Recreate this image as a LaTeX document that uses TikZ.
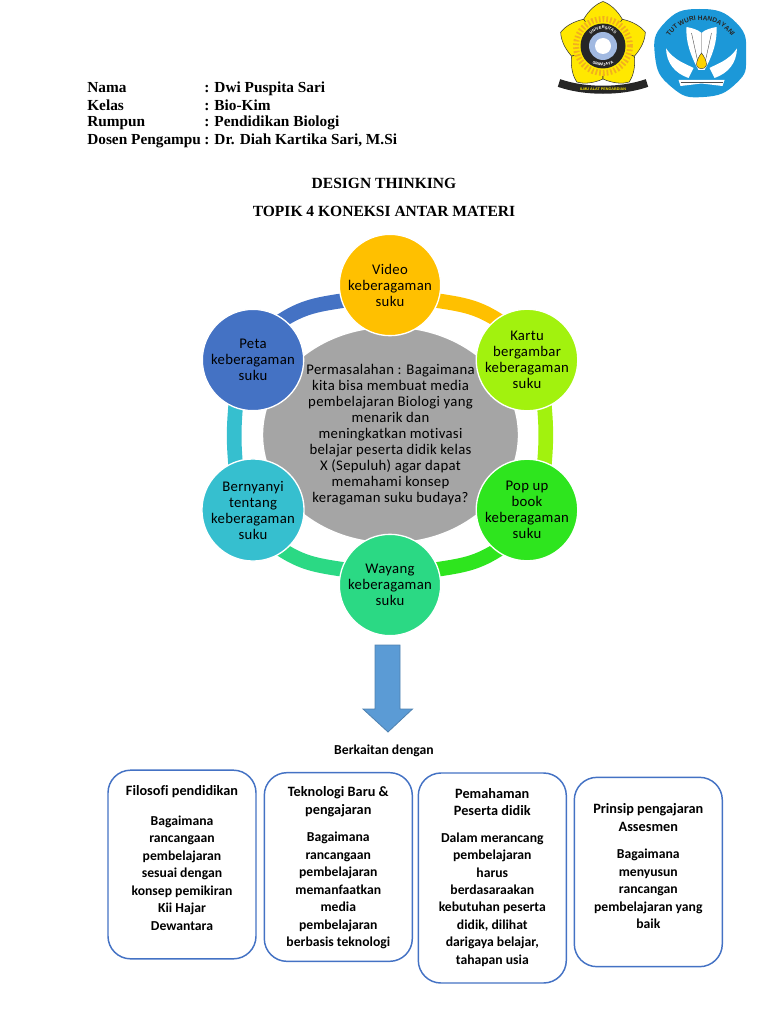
\documentclass[tikz,border=0pt]{standalone}
\usepackage{fontspec}
\setmainfont{Carlito}[Ligatures=NoCommon]
\newfontfamily\headfont{Liberation Serif}
\newfontfamily\logofont{Liberation Sans}
\usetikzlibrary{backgrounds,decorations.text,shapes.geometric}
\definecolor{cAmber}{HTML}{FFC000}
\definecolor{cLime}{HTML}{A2F20E}
\definecolor{cGreen}{HTML}{2EE51E}
\definecolor{cMint}{HTML}{2BD984}
\definecolor{cTeal}{HTML}{36BFCF}
\definecolor{cBlue}{HTML}{4472C4}
\definecolor{cGray}{HTML}{A5A5A5}
\definecolor{cArrow}{HTML}{5B9BD5}
\definecolor{cArrowEdge}{HTML}{4F81AF}
\definecolor{cLogoBlue}{HTML}{1C98D8}
\definecolor{cYellow}{HTML}{FFE800}
\definecolor{cRay}{HTML}{F2B01E}
\tikzset{
  x=0.75pt,y=0.75pt,
  satellite/.style={circle,draw=white,line width=1pt,minimum size=76pt,inner sep=0pt,align=center,text=black,
     font=\fontsize{11.05pt}{12pt}\selectfont\addfontfeatures{LetterSpace=2}},
  hub/.style={ellipse,fill=cGray,draw=white,line width=1pt,minimum width=192pt,minimum height=162pt,inner sep=0pt,align=center,text=black,
     font=\fontsize{11.05pt}{12pt}\selectfont\addfontfeatures{LetterSpace=2}},
  ring/.style={line width=11pt,shorten >=-5pt,shorten <=-5pt},
  card/.style={draw=cBlue,line width=1.1pt,rounded corners=17pt,minimum width=111pt,inner sep=0pt,fill=white},
  cardtext/.style={align=center,inner sep=0pt,text=black,font=\bfseries\fontsize{10.25pt}{13.1pt}\selectfont},
  cardhead/.style={align=center,inner sep=0pt,text=black,font=\bfseries\fontsize{10.7pt}{13.4pt}\selectfont},
  headline/.style={anchor=base west,inner sep=0pt,font=\headfont\bfseries\fontsize{11.5pt}{13pt}\selectfont},
  titleline/.style={inner sep=0pt,font=\headfont\bfseries\fontsize{11.65pt}{13pt}\selectfont},
}
\begin{document}
\begin{tikzpicture}
\useasboundingbox (0,0) rectangle (768,-1024);

% header
\node[headline] (n1) at (87,-93) {Nama};
\node[headline] (n2) at (87,-110) {Kelas};
\node[headline] (n3) at (87,-127) {Rumpun};
\node[headline] (n4) at (87,-144) {Dosen Pengampu};
\node[headline] (v1) at (204,-93) {: Dwi Puspita Sari};
\node[headline] (v2) at (204,-110) {: Bio-Kim};
\node[headline] (v3) at (204,-127) {: Pendidikan Biologi};
\node[headline] (v4) at (204,-144) {: Dr. Diah Kartika Sari, M.Si};
\node[titleline] (t1) at (384,-183) {DESIGN THINKING};
\node[titleline] (t2) at (384,-211) {TOPIK 4 KONEKSI ANTAR MATERI};

% cycle
\node[hub] (hub) at (390.5,-435) {Permasalahan : Bagaimana\\kita bisa membuat media\\pembelajaran Biologi yang\\menarik dan\\meningkatkan motivasi\\belajar peserta didik kelas\\X (Sepuluh) agar dapat\\memahami konsep\\keragaman suku budaya?};
\node[satellite,fill=cAmber] (video) at (390,-285) {Video\\keberagaman\\suku};
\node[satellite,fill=cLime] (kartu) at (527,-360) {Kartu\\bergambar\\keberagaman\\suku};
\node[satellite,fill=cGreen] (popup) at (527,-510) {Pop up\\book\\keberagaman\\suku};
\node[satellite,fill=cMint] (wayang) at (390,-585) {Wayang\\keberagaman\\suku};
\node[satellite,fill=cTeal] (nyanyi) at (253,-510) {Bernyanyi\\tentang\\keberagaman\\suku};
\node[satellite,fill=cBlue] (peta) at (253,-360) {Peta\\keberagaman\\suku};
\begin{scope}[on background layer]
\draw[ring,cAmber] (video.-18) to[out=-9,in=146] (kartu.127);
\draw[ring,cLime] (kartu.-70) to[out=-85,in=85] (popup.70);
\draw[ring,cGreen] (popup.-127) to[out=-146,in=9] (wayang.18);
\draw[ring,cMint] (wayang.162) to[out=171,in=-34] (nyanyi.-53);
\draw[ring,cTeal] (nyanyi.110) to[out=95,in=-95] (peta.-110);
\draw[ring,cBlue] (peta.53) to[out=34,in=189] (video.198);
\end{scope}

% arrow
\draw[fill=cArrow,draw=cArrowEdge,line width=0.6pt]
  (375,-645) -- (400,-645) -- (400,-709) -- (412.5,-709) -- (388,-732) -- (363,-709) -- (375,-709) -- cycle;
\node[inner sep=0pt,font=\bfseries\fontsize{10.25pt}{12pt}\selectfont] (rel) at (384,-751) {Berkaitan dengan};

% cards
\node[card,minimum height=141.5pt] (c1) at (182,-864.5) {};
\node[card,minimum height=141.5pt] (c2) at (338.3,-867) {};
\node[card,minimum height=157.5pt] (c3) at (492.3,-878) {};
\node[card,minimum height=142pt] (c4) at (648.3,-872) {};
\node[cardhead] (c1t) at (182,-792) {Filosofi pendidikan};
\node[cardtext] (c1b) at (182,-873) {Bagaimana\\rancangaan\\pembelajaran\\sesuai dengan\\konsep pemikiran\\Kii Hajar\\Dewantara};
\node[cardhead] (c2t) at (338.3,-802) {Teknologi Baru \&\\pengajaran};
\node[cardtext] (c2b) at (338.3,-890.5) {Bagaimana\\rancangaan\\pembelajaran\\memanfaatkan\\media\\pembelajaran\\berbasis teknologi};
\node[cardhead] (c3t) at (492.3,-802) {Pemahaman\\Peserta didik};
\node[cardtext] (c3b) at (492.3,-899.5) {Dalam merancang\\pembelajaran\\harus\\berdasaraakan\\kebutuhan peserta\\didik, dilihat\\darigaya belajar,\\tahapan usia};
\node[cardhead] (c4t) at (648.3,-817.5) {Prinsip pengajaran\\Assesmen};
\node[cardtext] (c4b) at (648.3,-889) {Bagaimana\\menyusun\\rancangan\\pembelajaran yang\\baik};

% logo 1
\begin{scope}[shift={(603,-46)}]
  \foreach \a in {90,162,234,306,18}{
    \draw[rotate=\a-90,fill=cYellow,draw=black!80,line width=0.4pt]
      (0,0) -- (-19.4,26.7) .. controls (-14,36) and (-7,42) .. (0,44.5) .. controls (7,42) and (14,36) .. (19.4,26.7) -- cycle;
  }
  \fill[cYellow] (0,0) circle (30);
  \draw[cRay,line width=4.5pt,dash pattern=on 1.3pt off 1.5pt] (0,0) circle (27);
  \fill[black!85] (0,0) circle (22.5);
  \fill[cBlue!50] (0,0) circle (14);
  \fill[white] (0,0) circle (8);
  \path[postaction={decorate,decoration={text along path,text align=center,
     text={|\logofont\bfseries\fontsize{3pt}{3pt}\selectfont\color{white}|UNIVERSITAS}}}]
     (-17,0) arc[start angle=180,end angle=0,radius=17];
  \path[postaction={decorate,decoration={text along path,text align=center,
     text={|\logofont\bfseries\fontsize{3pt}{3pt}\selectfont\color{white}|SRIWIJAYA}}}]
     (-20,0) arc[start angle=180,end angle=360,radius=20];
\end{scope}
\draw[black!85,line width=6pt] (559,-83) .. controls (585,-92) and (621,-92) .. (647,-83);
\node[inner sep=0pt,text=cYellow,font=\logofont\bfseries\fontsize{2.8pt}{3pt}\selectfont] (motto) at (603,-89.5) {ILMU ALAT PENGABDIAN};

% logo 2
\begin{scope}[shift={(700.5,-53)}]
  \fill[cLogoBlue] plot[smooth cycle,tension=0.9] coordinates {(-45.5,-3) (-36,30) (-1,44) (36,30) (45.5,-3) (36,-30) (3,-44) (-29,-34)};
  \path[postaction={decorate,decoration={text along path,text align=center,
     text={|\logofont\bfseries\fontsize{4.9pt}{5.5pt}\selectfont\color{black!85}|TUT WURI HANDAYANI}}}]
     (-36.7,4.8) arc[start angle=165,end angle=15,radius=38];
  \begin{scope}[yscale=-1]
    \fill[white] (-34.5,-4.7) .. controls (-34,10) and (-26,20) .. (-12,25) -- (-7,15) .. controls (-14,11) and (-26,8) .. cycle;
    \fill[white] (36.5,-4.7) .. controls (36,10) and (28,20) .. (14,25) -- (9,15) .. controls (16,11) and (28,8) .. cycle;
    \fill[white] (-14,-26) .. controls (-8,-25) and (-2,-23) .. (1,-20) .. controls (4,-23) and (10,-25) .. (16,-26)
       .. controls (17,-12) and (12,3) .. (4,17) -- (-2,17) .. controls (-10,3) and (-15,-12) .. cycle;
    \draw[black!70,line width=0.3pt] (-9,-20) -- (-2,12) (11,-20) -- (4,12) (1,-20) -- (1,0);
    \fill[cYellow!80!orange,draw=black!80,line width=0.3pt] (1,0) .. controls (4,4) and (6,8) .. (6,12) .. controls (5,17) and (-3,17) .. (-4,12) .. controls (-4,8) and (-2,4) .. cycle;
    \fill[white] (-22,27) -- (24,27) -- (22,33) -- (1,30.5) -- (-20,33) -- cycle;
    \draw[black!70,line width=0.3pt] (-20,29) -- (22,29);
  \end{scope}
\end{scope}
\end{tikzpicture}
\end{document}
